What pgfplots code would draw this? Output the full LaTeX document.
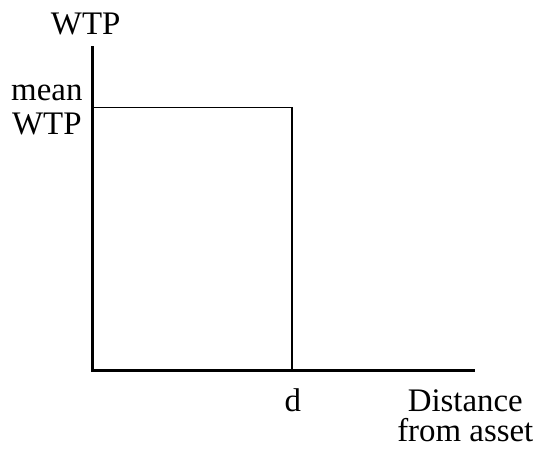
\documentclass[border=0pt]{standalone}
\usepackage{fontspec}
\setmainfont{Liberation Serif}
\usepackage{pgfplots}
\pgfplotsset{compat=1.18}
\tikzset{lbl/.style={font=\fontsize{33}{34}\selectfont, inner sep=0pt}}

\begin{document}
\begin{tikzpicture}
\begin{axis}[
    scale only axis,
    width=382pt, height=324pt,
    xmin=0, xmax=382, ymin=0, ymax=324,
    axis lines=left,
    axis line style={-, line width=3pt, line cap=rect},
    ticks=none,
    clip=false,
]
% WTP schedule: constant mean WTP up to distance d, zero beyond
\addplot[black, line width=1.2pt, line join=miter] coordinates {(0,264) (200,264) (200,0)};

% page extent
\path (axis cs:-93,-82) rectangle (axis cs:452,372);

\node[lbl, anchor=base] at (axis cs:-7,337) {WTP};
\node[lbl, anchor=north, align=center] at (axis cs:-46,287) {mean\\WTP};
\node[lbl, anchor=base] at (axis cs:201,-41) {d};
\node[lbl, font=\fontsize{33}{30}\selectfont, anchor=north, align=center] at (axis cs:374,-19) {Distance\\from asset};
\end{axis}
\end{tikzpicture}
\end{document}
